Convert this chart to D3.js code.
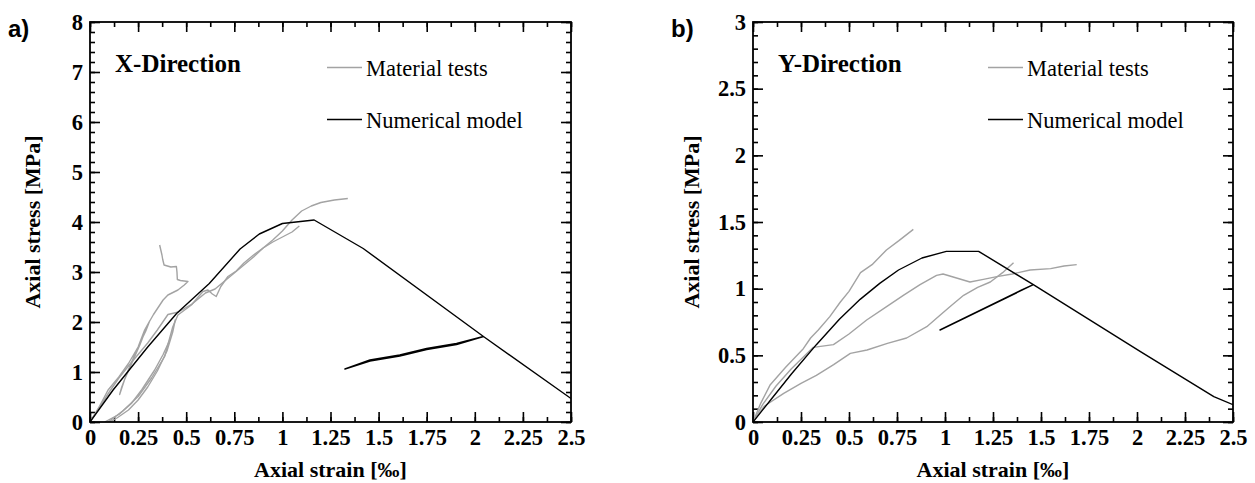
<!DOCTYPE html>
<html>
<head>
<meta charset="utf-8">
<script src="https://cdn.jsdelivr.net/npm/d3@7"></script>
<style>
  body { margin: 0; background: #fff; }
</style>
</head>
<body>
<div id="chart"></div>
<script>
var SERIF = '"Liberation Serif", Tinos, "Times New Roman", Times, "DejaVu Serif", serif';
var SANS = '"Liberation Sans", Arial, "DejaVu Sans", sans-serif';

// Tick labels
var xTicks = [0, 0.25, 0.5, 0.75, 1, 1.25, 1.5, 1.75, 2, 2.25, 2.5];
var yTicksX = [0, 1, 2, 3, 4, 5, 6, 7, 8];
var yTicksY = [0, 0.5, 1, 1.5, 2, 2.5, 3];

// X-direction: material tests (strain ‰, stress MPa)
var xTestA = [[0,0],[0.05,0.3],[0.1,0.6],[0.15,0.88],[0.2,1.12],[0.25,1.35],[0.3,1.58],[0.35,1.84],[0.405,2.15],[0.46,2.2],[0.53,2.36],[0.6,2.58],[0.65,2.66],[0.7,2.82],[0.75,2.98],[0.8,3.14],[0.85,3.3],[0.9,3.48],[0.95,3.64],[1.0,3.82],[1.05,4.04],[1.1,4.22],[1.15,4.32],[1.2,4.39],[1.27,4.44],[1.34,4.47]];
var xTestB = [[0.076,0],[0.15,0.15],[0.215,0.37],[0.27,0.65],[0.336,1.04],[0.38,1.35],[0.423,1.71],[0.443,2.04],[0.43,1.8],[0.4,1.42],[0.35,1.02],[0.3,0.7],[0.25,0.44],[0.2,0.24],[0.14,0.08],[0.1,0]];
var xTestC = [[0.094,0],[0.17,0.22],[0.25,0.51],[0.32,0.88],[0.388,1.31],[0.43,1.9],[0.457,2.14],[0.527,2.34],[0.587,2.61],[0.613,2.64],[0.636,2.56],[0.656,2.51],[0.68,2.71],[0.717,2.91],[0.76,3.02],[0.8,3.18],[0.85,3.34],[0.9,3.48],[0.95,3.6],[1.0,3.7],[1.05,3.8],[1.088,3.92]];
var xTestD = [[0,0],[0.05,0.32],[0.094,0.64],[0.15,0.9],[0.2,1.17],[0.25,1.5],[0.284,1.84],[0.31,2.02],[0.29,1.82],[0.25,1.5],[0.2,1.05],[0.165,0.7],[0.154,0.55],[0.18,0.85],[0.22,1.2],[0.26,1.55],[0.3,1.95],[0.33,2.15],[0.38,2.44],[0.405,2.54],[0.457,2.64],[0.49,2.74],[0.509,2.81],[0.47,2.83],[0.454,2.85],[0.452,3.0],[0.449,3.11],[0.42,3.1],[0.385,3.14],[0.378,3.25],[0.374,3.34],[0.368,3.44],[0.362,3.54]];
var xTests = [xTestA, xTestB, xTestC, xTestD];

// X-direction: numerical model
var xModel = [[0,0],[0.12,0.64],[0.3,1.5],[0.45,2.17],[0.62,2.77],[0.78,3.46],[0.88,3.76],[1.0,3.97],[1.165,4.04],[1.42,3.47],[2.045,1.71],[1.905,1.55],[1.75,1.45],[1.61,1.32],[1.455,1.22],[1.325,1.06],[1.455,1.24],[1.61,1.34],[1.75,1.47],[1.905,1.57],[2.045,1.71],[2.5,0.47]];

// Y-direction: material tests
var yTestP = [[0,0],[0.04,0.14],[0.09,0.28],[0.17,0.41],[0.262,0.55],[0.3,0.63],[0.34,0.69],[0.4,0.79],[0.455,0.9],[0.5,0.98],[0.56,1.12],[0.62,1.18],[0.695,1.29],[0.76,1.36],[0.835,1.445]];
var yTestQ = [[0,0],[0.05,0.13],[0.12,0.27],[0.2,0.4],[0.314,0.56],[0.419,0.58],[0.5,0.66],[0.592,0.765],[0.69,0.86],[0.783,0.95],[0.87,1.03],[0.956,1.1],[0.99,1.11],[1.06,1.08],[1.13,1.05],[1.2,1.07],[1.27,1.09],[1.35,1.11],[1.443,1.14],[1.55,1.15],[1.62,1.17],[1.686,1.18]];
var yTestR = [[0,0],[0.06,0.12],[0.16,0.215],[0.25,0.29],[0.33,0.35],[0.42,0.43],[0.507,0.515],[0.594,0.54],[0.7,0.59],[0.8,0.63],[0.905,0.715],[0.974,0.8],[1.03,0.87],[1.097,0.95],[1.17,1.01],[1.236,1.05],[1.3,1.12],[1.357,1.195]];
var yTests = [yTestP, yTestQ, yTestR];

// Y-direction: numerical model
var yModel = [[0,0],[0.1,0.18],[0.2,0.36],[0.33,0.58],[0.45,0.77],[0.558,0.92],[0.66,1.04],[0.758,1.14],[0.88,1.23],[1.007,1.28],[1.175,1.28],[1.46,1.03],[0.974,0.69],[1.4,0.99],[1.46,1.03],[2.016,0.53],[2.4,0.19],[2.5,0.13]];

var W = 1255, H = 483;
var svg = d3.select('#chart').append('svg').attr('width', W).attr('height', H)
  .attr('font-family', SERIF);

function panel(opt) {
  var g = svg.append('g').attr('transform', 'translate(' + opt.left + ',' + opt.top + ')');
  var w = opt.width, h = opt.height;
  var x = d3.scaleLinear().domain([0, 2.5]).range([0, w]);
  var y = d3.scaleLinear().domain([0, opt.yMax]).range([h, 0]);

  // minor ticks
  var xMinor = d3.range(0, 2.5001, 0.125);
  var yMinor = d3.range(0, opt.yMax + 0.0001, opt.yMinorStep);
  g.append('g').attr('transform', 'translate(0,' + h + ')')
    .call(d3.axisBottom(x).tickValues(xMinor).tickSize(-5).tickFormat(''));
  g.append('g').call(d3.axisTop(x).tickValues(xMinor).tickSize(-5).tickFormat(''));
  g.append('g').call(d3.axisLeft(y).tickValues(yMinor).tickSize(-5).tickFormat(''));
  g.append('g').attr('transform', 'translate(' + w + ',0)')
    .call(d3.axisRight(y).tickValues(yMinor).tickSize(-5).tickFormat(''));

  // major ticks
  g.append('g').attr('transform', 'translate(0,' + h + ')')
    .call(d3.axisBottom(x).tickValues(xTicks).tickSize(-10).tickPadding(7).tickFormat(function(d) { return String(d); }));
  g.append('g').call(d3.axisTop(x).tickValues(xTicks).tickSize(-10).tickFormat(''));
  g.append('g')
    .call(d3.axisLeft(y).tickValues(opt.yTicks).tickSize(-10).tickPadding(7).tickFormat(function(d) { return String(d); }));
  g.append('g').attr('transform', 'translate(' + w + ',0)')
    .call(d3.axisRight(y).tickValues(opt.yTicks).tickSize(-10).tickFormat(''));

  g.selectAll('.domain').remove();
  g.selectAll('.tick line').attr('stroke', '#000').attr('stroke-width', 1.6);
  g.selectAll('.tick text').attr('font-family', SERIF)
    .attr('font-size', 22.5).attr('font-weight', 'bold').attr('fill', '#000');

  // clip + lines
  var clipId = 'clip-' + opt.name;
  g.append('clipPath').attr('id', clipId).append('rect').attr('width', w).attr('height', h);
  var line = d3.line().x(function(d) { return x(d[0]); }).y(function(d) { return y(d[1]); });
  var plot = g.append('g').attr('clip-path', 'url(#' + clipId + ')');
  plot.selectAll('path.test').data(opt.tests).enter().append('path')
    .attr('class', 'test').attr('d', line)
    .attr('fill', 'none').attr('stroke', '#a3a3a3').attr('stroke-width', 1.4)
    .attr('stroke-linejoin', 'round');
  plot.append('path').datum(opt.model).attr('d', line)
    .attr('fill', 'none').attr('stroke', '#000').attr('stroke-width', 1.4)
    .attr('stroke-linejoin', 'round');

  // frame
  g.append('rect').attr('width', w).attr('height', h)
    .attr('fill', 'none').attr('stroke', '#000').attr('stroke-width', 1.8);

  // axis titles
  g.append('text').attr('x', w / 2).attr('y', h + 55)
    .attr('text-anchor', 'middle').attr('font-size', 22).attr('font-weight', 'bold')
    .text('Axial strain [‰]');
  g.append('text').attr('transform', 'translate(' + opt.yTitleX + ',' + (h / 2) + ') rotate(-90)')
    .attr('text-anchor', 'middle').attr('font-size', 22).attr('font-weight', 'bold')
    .text('Axial stress [MPa]');

  // panel letter
  g.append('text').attr('x', -82).attr('y', 15)
    .attr('font-family', SANS).attr('font-weight', 'bold')
    .attr('font-size', 24).text(opt.letter);

  // direction label
  g.append('text').attr('x', opt.dirX).attr('y', 50)
    .attr('font-size', 25).attr('font-weight', 'bold').text(opt.dirLabel);

  // legend
  var lg = g.append('g').attr('transform', 'translate(' + opt.legX + ',0)');
  lg.append('line').attr('x1', 0).attr('x2', 35).attr('y1', 45.5).attr('y2', 45.5)
    .attr('stroke', '#a3a3a3').attr('stroke-width', 1.4);
  lg.append('text').attr('x', 39).attr('y', 54).attr('font-size', 22.5).text('Material tests');
  lg.append('line').attr('x1', 0).attr('x2', 35).attr('y1', 97.5).attr('y2', 97.5)
    .attr('stroke', '#000').attr('stroke-width', 1.4);
  lg.append('text').attr('x', 39).attr('y', 106).attr('font-size', 22.5).text('Numerical model');
}

panel({
  name: 'a', letter: 'a)', dirLabel: 'X-Direction',
  left: 90, top: 22, width: 481, height: 400,
  yMax: 8, yTicks: yTicksX, yMinorStep: 0.2,
  tests: xTests, model: xModel,
  yTitleX: -50, dirX: 25, legX: 237
});

panel({
  name: 'b', letter: 'b)', dirLabel: 'Y-Direction',
  left: 753, top: 22, width: 480, height: 400,
  yMax: 3, yTicks: yTicksY, yMinorStep: 0.1,
  tests: yTests, model: yModel,
  yTitleX: -54, dirX: 25, legX: 235
});
</script>
</body>
</html>
